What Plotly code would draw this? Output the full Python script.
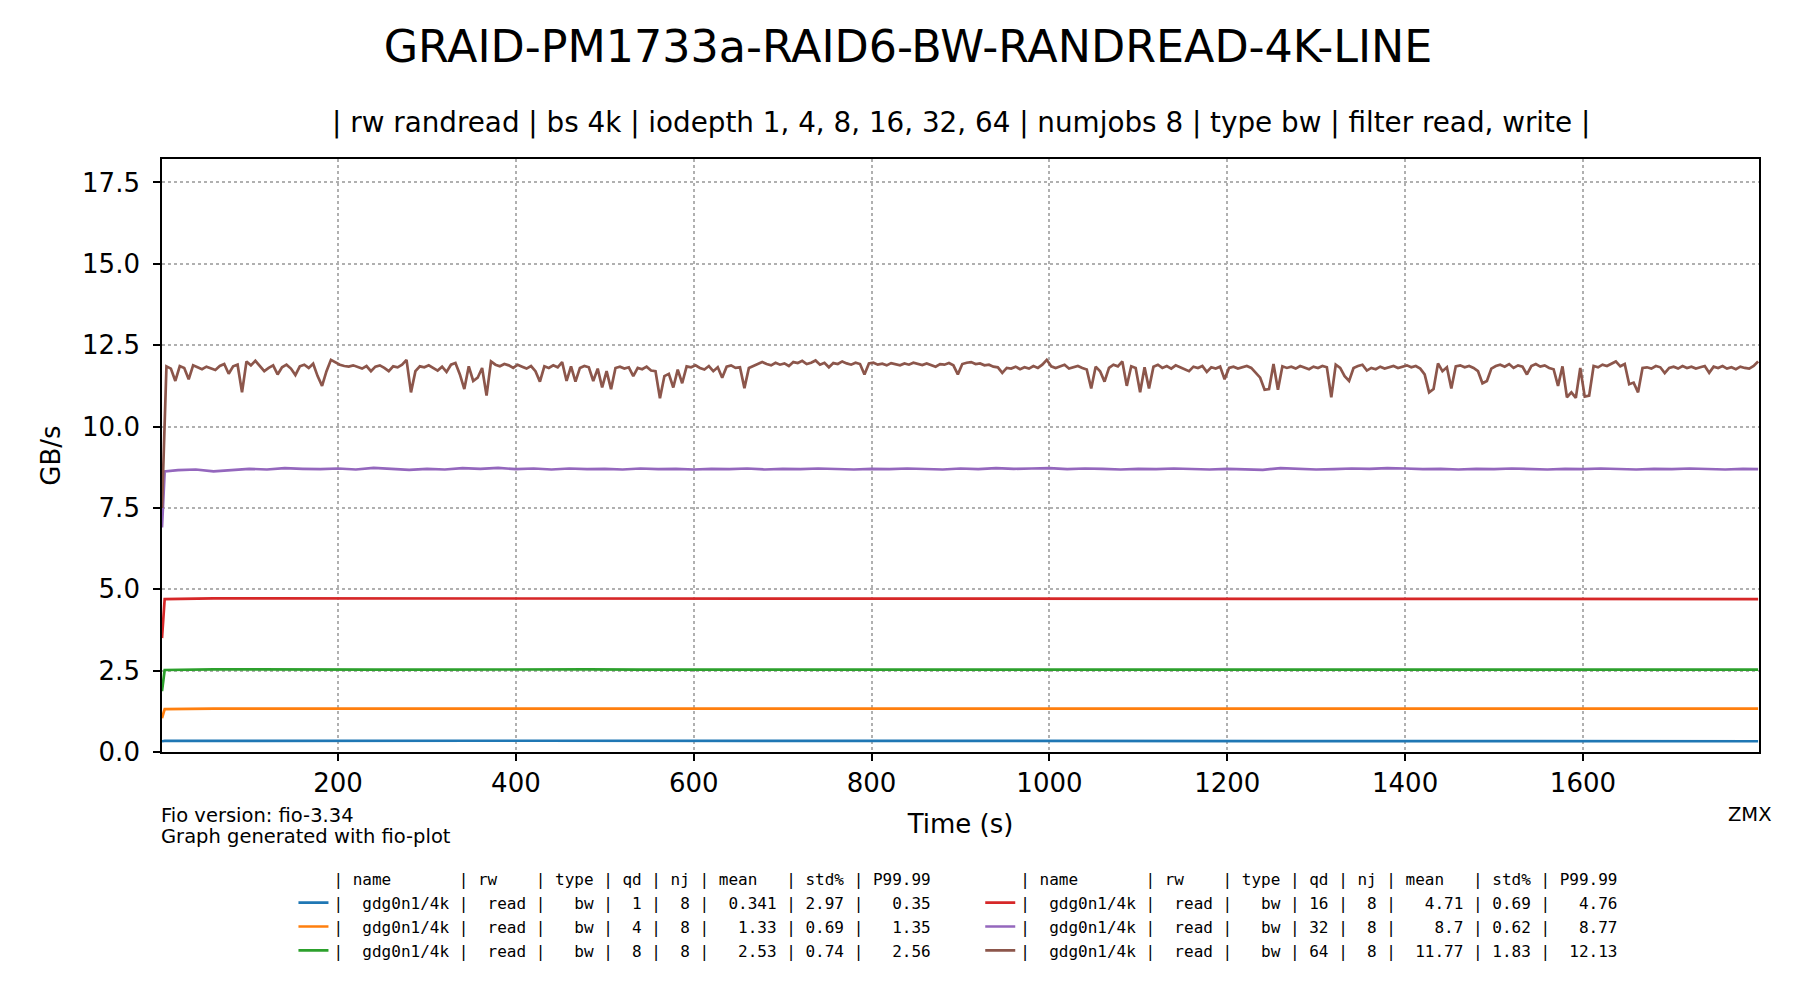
import plotly.graph_objects as go

# ---------------- data ----------------
title_text = "GRAID-PM1733a-RAID6-BW-RANDREAD-4K-LINE"
subtitle_text = "| rw randread | bs 4k | iodepth 1, 4, 8, 16, 32, 64 | numjobs 8 | type bw | filter read, write |"

x_ticks = [200, 400, 600, 800, 1000, 1200, 1400, 1600]

# sample times (s)
t_flat = [2, 5] + list(range(60, 1800, 60)) + [1797]
t_qd32 = [2, 5] + list(range(20, 1800, 20)) + [1797]

qd1_bw = [0.33, 0.34, 0.34, 0.345, 0.345, 0.345, 0.345, 0.345, 0.345, 0.345, 0.345, 0.345,
          0.345, 0.345, 0.345, 0.345, 0.345, 0.345, 0.345, 0.34, 0.34, 0.335, 0.33, 0.33,
          0.33, 0.33, 0.33, 0.33, 0.33, 0.33, 0.33, 0.33]
qd4_bw = [1.04, 1.32, 1.33, 1.33, 1.33, 1.335, 1.335, 1.33, 1.335, 1.33, 1.33, 1.335,
          1.33, 1.33, 1.335, 1.33, 1.33, 1.335, 1.33, 1.33, 1.335, 1.33, 1.33, 1.335,
          1.33, 1.335, 1.33, 1.33, 1.335, 1.33, 1.33, 1.33]
qd8_bw = [1.87, 2.52, 2.54, 2.53, 2.54, 2.53, 2.53, 2.54, 2.53, 2.54, 2.53, 2.53,
          2.52, 2.53, 2.53, 2.54, 2.53, 2.52, 2.53, 2.53, 2.54, 2.53, 2.53, 2.52,
          2.53, 2.53, 2.53, 2.52, 2.53, 2.53, 2.53, 2.53]
qd16_bw = [3.5, 4.70, 4.72, 4.72, 4.72, 4.71, 4.72, 4.71, 4.71, 4.72, 4.71, 4.71,
           4.70, 4.71, 4.71, 4.71, 4.70, 4.71, 4.72, 4.71, 4.70, 4.71, 4.70, 4.71,
           4.71, 4.70, 4.71, 4.70, 4.71, 4.71, 4.70, 4.70]
qd32_bw = [6.9, 8.62, 8.66, 8.68, 8.62, 8.66, 8.70, 8.68, 8.72, 8.70, 8.69, 8.71,
           8.68, 8.73, 8.70, 8.67, 8.70, 8.68, 8.72, 8.70, 8.73, 8.69, 8.71, 8.68,
           8.71, 8.69, 8.70, 8.68, 8.71, 8.69, 8.70, 8.68, 8.70, 8.69, 8.71, 8.68,
           8.70, 8.69, 8.71, 8.70, 8.68, 8.70, 8.69, 8.71, 8.70, 8.68, 8.71, 8.69,
           8.72, 8.70, 8.71, 8.72, 8.69, 8.71, 8.70, 8.68, 8.70, 8.69, 8.71, 8.70,
           8.68, 8.70, 8.69, 8.67, 8.72, 8.70, 8.68, 8.69, 8.71, 8.70, 8.72, 8.71,
           8.69, 8.70, 8.68, 8.70, 8.69, 8.71, 8.70, 8.68, 8.70, 8.69, 8.71, 8.70,
           8.68, 8.70, 8.69, 8.71, 8.70, 8.68, 8.70, 8.69]
qd64_bw = [7.5, 11.85, 11.78, 11.40, 11.86, 11.80, 11.45, 11.88, 11.82, 11.76, 11.84, 11.80,
           11.74, 11.86, 11.92, 11.62, 11.85, 11.90, 11.05, 12.00, 11.88, 12.02, 11.85, 11.70,
           11.80, 11.88, 11.60, 11.82, 11.90, 11.78, 11.58, 11.85, 11.90, 11.80, 11.93, 11.55,
           11.25, 11.70, 12.05, 11.98, 11.90, 11.86, 11.84, 11.88, 11.82, 11.78, 11.86, 11.70,
           11.84, 11.88, 11.80, 11.70, 11.85, 11.82, 11.90, 12.05, 11.05, 11.70, 11.85, 11.82,
           11.88, 11.80, 11.72, 11.84, 11.68, 11.90, 11.95, 11.60, 11.15, 11.85, 11.40, 11.50,
           11.80, 10.95, 12.00, 11.90, 11.85, 11.92, 11.88, 11.80, 11.90, 11.84, 11.78, 11.86,
           11.70, 11.38, 11.85, 11.80, 11.88, 11.82, 11.98, 11.40, 11.85, 11.38, 11.80, 11.86,
           11.82, 11.40, 11.78, 11.20, 11.70, 11.15, 11.80, 11.84, 11.78, 11.82, 11.55, 11.80,
           11.76, 11.84, 11.72, 11.70, 10.87, 11.55, 11.62, 11.20, 11.75, 11.33, 11.85, 11.82,
           11.88, 11.80, 11.75, 11.86, 11.70, 11.82, 11.50, 11.84, 11.88, 11.80, 11.82, 11.18,
           11.80, 11.86, 11.92, 11.98, 11.92, 11.88, 11.96, 11.90, 11.94, 11.86, 11.98, 11.95,
           12.02, 11.92, 11.96, 12.03, 11.90, 11.96, 11.82, 11.95, 11.92, 12.00, 11.94, 11.90,
           11.96, 11.92, 11.60, 11.94, 11.96, 11.90, 11.93, 11.88, 11.95, 11.92, 11.88, 11.94,
           11.90, 11.96, 11.92, 11.89, 11.94, 11.90, 11.84, 11.92, 11.90, 11.95, 11.88, 11.60,
           11.92, 11.96, 11.98, 11.92, 11.94, 11.88, 11.90, 11.84, 11.82, 11.65, 11.80, 11.78,
           11.84, 11.76, 11.82, 11.78, 11.86, 11.80, 11.90, 12.05, 11.85, 11.80, 11.84, 11.90,
           11.78, 11.82, 11.86, 11.80, 11.75, 11.17, 11.84, 11.70, 11.38, 11.80, 11.90, 11.85,
           12.00, 11.25, 11.85, 11.80, 11.05, 11.82, 11.17, 11.84, 11.90, 11.80, 11.86, 11.78,
           11.88, 11.82, 11.76, 11.70, 11.84, 11.80, 11.86, 11.68, 11.82, 11.78, 11.84, 11.45,
           11.80, 11.84, 11.78, 11.82, 11.86, 11.80, 11.65, 11.50, 11.13, 11.15, 11.92, 11.13,
           11.85, 11.80, 11.84, 11.78, 11.86, 11.82, 11.76, 11.84, 11.80, 11.86, 11.82, 10.90,
           11.90, 11.80, 11.55, 11.40, 11.80, 11.86, 11.90, 11.72, 11.80, 11.76, 11.84, 11.78,
           11.82, 11.86, 11.80, 11.84, 11.88, 11.82, 11.86, 11.78, 11.60, 11.05, 11.15, 11.94,
           11.70, 11.82, 11.17, 11.85, 11.88, 11.82, 11.86, 11.80, 11.70, 11.33, 11.40, 11.78,
           11.86, 11.90, 11.84, 11.92, 11.80, 11.88, 11.84, 11.60, 11.86, 11.92, 11.84, 11.88,
           11.80, 11.76, 11.25, 11.85, 10.90, 11.05, 10.88, 11.80, 10.92, 10.95, 11.86, 11.82,
           11.90, 11.86, 11.94, 12.00, 11.85, 11.92, 11.30, 11.35, 11.05, 11.80, 11.82, 11.78,
           11.86, 11.82, 11.64, 11.80, 11.84, 11.78, 11.86, 11.80, 11.84, 11.78, 11.82, 11.86,
           11.65, 11.84, 11.80, 11.86, 11.78, 11.82, 11.76, 11.84, 11.80, 11.78, 11.86, 12.00]
t_qd64 = [2 + 5 * i for i in range(len(qd64_bw))]

legend_header = "| name       | rw    | type | qd | nj | mean   | std% | P99.99"
legend_rows = [
    "|  gdg0n1/4k |  read |   bw |  1 |  8 |  0.341 | 2.97 |   0.35",
    "|  gdg0n1/4k |  read |   bw |  4 |  8 |   1.33 | 0.69 |   1.35",
    "|  gdg0n1/4k |  read |   bw |  8 |  8 |   2.53 | 0.74 |   2.56",
    "|  gdg0n1/4k |  read |   bw | 16 |  8 |   4.71 | 0.69 |   4.76",
    "|  gdg0n1/4k |  read |   bw | 32 |  8 |    8.7 | 0.62 |   8.77",
    "|  gdg0n1/4k |  read |   bw | 64 |  8 |  11.77 | 1.83 |  12.13",
]
colors = ["#1f77b4", "#ff7f0e", "#2ca02c", "#d62728", "#9467bd", "#8c564b"]

# ---------------- figure ----------------
def nb(s):
    return s.replace(" ", "\u00a0")

series = [
    (t_flat, qd1_bw), (t_flat, qd4_bw), (t_flat, qd8_bw),
    (t_flat, qd16_bw), (t_qd32, qd32_bw), (t_qd64, qd64_bw),
]

fig = go.Figure()
for leg in ["legend", "legend2"]:
    fig.add_trace(go.Scatter(x=[None], y=[None], mode="lines", name=nb(legend_header),
                             line=dict(color="rgba(0,0,0,0)", width=2.7),
                             legend=leg, hoverinfo="skip"))
    rng = range(0, 3) if leg == "legend" else range(3, 6)
    for i in rng:
        tx, vals = series[i]
        fig.add_trace(go.Scatter(x=tx, y=vals, mode="lines", name=nb(legend_rows[i]),
                                 line=dict(color=colors[i], width=2.7), legend=leg))

W, H = 1800, 1000
L, R, T, B = 153.5, 1751.0, 151.0, 744.0
pw, ph = R - L, B - T

def px_x(x):
    return (x - L) / pw

def px_y(y):
    return (B - y) / ph

axis_common = dict(
    showline=True, mirror=True, linecolor="black", linewidth=1.7,
    ticks="outside", ticklen=7, tickwidth=1.7, tickcolor="black",
    tickfont=dict(size=26, color="black", family="DejaVu Sans"),
    showgrid=True, gridcolor="#b0b0b0", griddash="dot", gridwidth=1.6,
    zeroline=False,
)

mono = dict(family="DejaVu Sans Mono", size=16, color="black")

fig.update_layout(
    width=W, height=H, autosize=False,
    margin=dict(l=L, r=W - R, t=T, b=H - B, pad=0),
    paper_bgcolor="white", plot_bgcolor="white",
    font=dict(family="DejaVu Sans", color="black"),
    title=dict(text=title_text, x=0.5, xref="container", xanchor="center",
               y=1 - 38 / H, yref="container", yanchor="middle",
               font=dict(size=44.4, family="DejaVu Sans", color="black")),
    xaxis=dict(range=[2, 1798], tickvals=x_ticks,
               title=dict(text="Time (s)", font=dict(size=26), standoff=18),
               **axis_common),
    yaxis=dict(range=[0, 18.22], tick0=0, dtick=2.5, tickformat=".1f",
               ticklabelstandoff=8,
               title=dict(text="GB/s", font=dict(size=26), standoff=14),
               **axis_common),
    legend=dict(x=px_x(285), y=px_y(854), xanchor="left", yanchor="top",
                font=mono, bgcolor="rgba(0,0,0,0)", borderwidth=0,
                itemwidth=30, traceorder="normal"),
    legend2=dict(x=px_x(972), y=px_y(854), xanchor="left", yanchor="top",
                 font=mono, bgcolor="rgba(0,0,0,0)", borderwidth=0,
                 itemwidth=30, traceorder="normal"),
    showlegend=True,
    annotations=[
        dict(text=subtitle_text, x=0.5, xref="paper", xanchor="center",
             y=px_y(114), yref="paper", yanchor="middle", showarrow=False,
             font=dict(size=27.8, family="DejaVu Sans", color="black")),
        dict(text="Fio version: fio-3.34", x=px_x(150), xref="paper", xanchor="left",
             y=px_y(808), yref="paper", yanchor="middle", showarrow=False,
             font=dict(size=19.5, family="DejaVu Sans", color="black")),
        dict(text="Graph generated with fio-plot", x=px_x(150), xref="paper", xanchor="left",
             y=px_y(828), yref="paper", yanchor="middle", showarrow=False,
             font=dict(size=19.5, family="DejaVu Sans", color="black")),
        dict(text="ZMX", x=px_x(1766), xref="paper", xanchor="right",
             y=px_y(806), yref="paper", yanchor="middle", showarrow=False,
             font=dict(size=19.5, family="DejaVu Sans", color="black")),
    ],
)

fig.write_html("out.html")
